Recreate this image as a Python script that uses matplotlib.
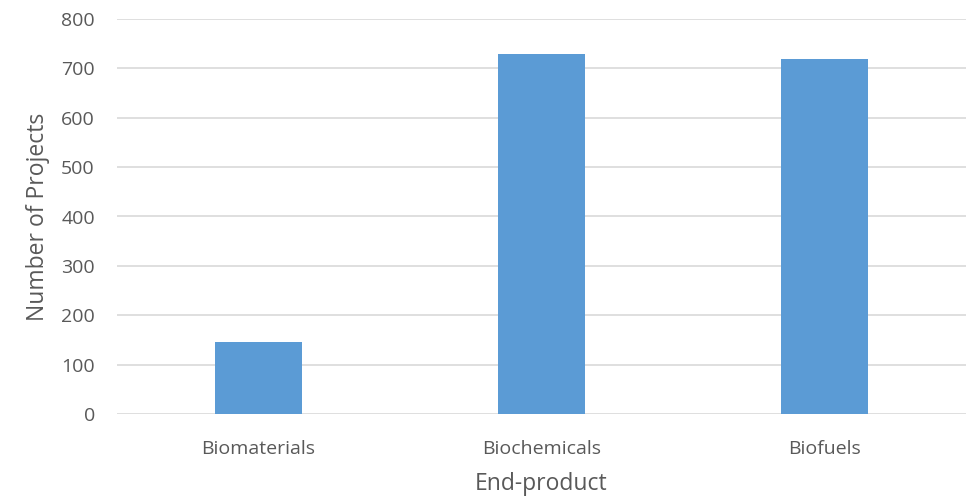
import matplotlib.pyplot as plt

categories = ['Biomaterials', 'Biochemicals', 'Biofuels']
projects = [146, 730, 718]
yticks = [0, 100, 200, 300, 400, 500, 600, 700, 800]

plt.rcParams['font.family'] = ['Open Sans', 'DejaVu Sans']

fig = plt.figure(figsize=(9.67, 4.98), dpi=100)
W, H = 967, 498
ax = fig.add_axes([117 / W, 1 - 414 / H, 849 / W, 395 / H])

x = range(len(categories))
ax.bar(x, projects, width=0.31, color='#5b9bd5', zorder=3)

ax.set_xlim(-0.5, len(categories) - 0.5)
ax.set_ylim(0, 800)
ax.set_yticks(yticks)
ax.set_xticks(list(x))
ax.set_xticklabels(categories)

ax.grid(True, axis='y', color='#d9d9d9', linewidth=1.2, zorder=0)
ax.set_axisbelow(True)
for s in ax.spines.values():
    s.set_visible(False)
ax.tick_params(axis='both', length=0, colors='#595959', labelsize=14)
ax.tick_params(axis='y', pad=16)
ax.tick_params(axis='x', pad=19)

ax.set_ylabel('Number of Projects', fontsize=16.5, color='#595959', labelpad=8)
ax.set_xlabel('End-product', fontsize=16.5, color='#595959', labelpad=10)

fig.savefig('out.png', dpi=100)
